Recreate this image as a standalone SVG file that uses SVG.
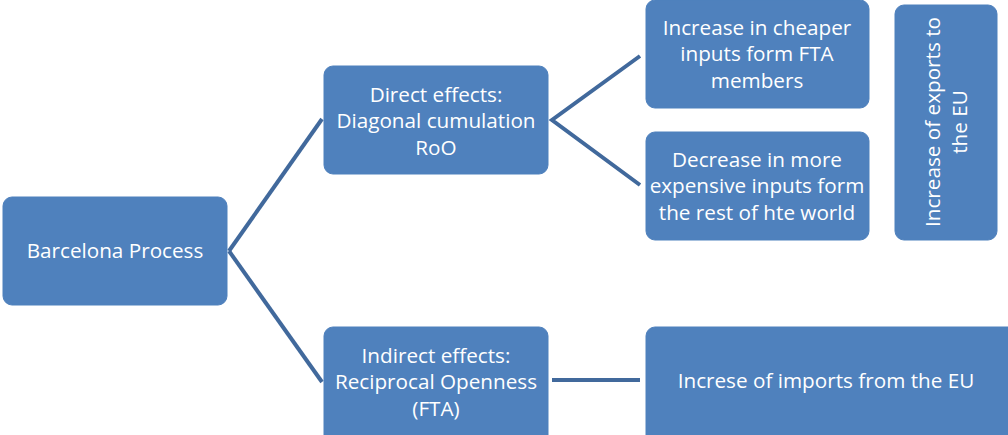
<svg xmlns="http://www.w3.org/2000/svg" width="1008" height="435" viewBox="0 0 1008 435">
<style>
.box{fill:#4F81BD;stroke:#4F81BD;stroke-width:1}
.t{font-family:"Open Sans","Liberation Sans",Arial,sans-serif;font-size:20.7px;fill:#fff;text-anchor:middle}
.c{stroke:#41699C;stroke-width:4;fill:none}
</style>
<rect width="1008" height="435" fill="#fff"/>
<g id="connectors">
<line class="c" x1="229" y1="251" x2="322" y2="119"/>
<line class="c" x1="229" y1="251" x2="322" y2="382"/>
<polyline class="c" points="640,56 552,120 640,185"/>
<line class="c" x1="552" y1="380" x2="640" y2="380"/>
</g>
<g id="barcelona">
<rect class="box" x="3" y="197" width="224" height="108" rx="9"/>
<text class="t" x="115" y="258">Barcelona Process</text>
</g>
<g id="direct">
<rect class="box" x="324" y="66" width="224" height="108" rx="9"/>
<text class="t" x="436" y="102">Direct effects:</text>
<text class="t" x="436" y="128">Diagonal cumulation</text>
<text class="t" x="436" y="155">RoO</text>
</g>
<g id="indirect">
<rect class="box" x="324" y="327" width="224" height="118" rx="9"/>
<text class="t" x="436" y="363">Indirect effects:</text>
<text class="t" x="436" y="389">Reciprocal Openness</text>
<text class="t" x="436" y="416">(FTA)</text>
</g>
<g id="cheaper">
<rect class="box" x="646" y="0" width="223" height="108" rx="9"/>
<text class="t" x="757" y="35">Increase in cheaper</text>
<text class="t" x="757" y="61">inputs form FTA</text>
<text class="t" x="757" y="88">members</text>
</g>
<g id="expensive">
<rect class="box" x="646" y="132" width="223" height="108" rx="9"/>
<text class="t" x="757" y="167">Decrease in more</text>
<text class="t" x="757" y="193">expensive inputs form</text>
<text class="t" x="757" y="220">the rest of hte world</text>
</g>
<g id="exports">
<rect class="box" x="895" y="5" width="102" height="235" rx="9"/>
<text class="t" transform="translate(946,122) rotate(-90)" y="-6">Increase of exports to</text>
<text class="t" transform="translate(946,122) rotate(-90)" y="21">the EU</text>
</g>
<g id="imports">
<rect class="box" x="646" y="327" width="372" height="118" rx="9"/>
<text class="t" x="826" y="388">Increse of imports from the EU</text>
</g>
</svg>
